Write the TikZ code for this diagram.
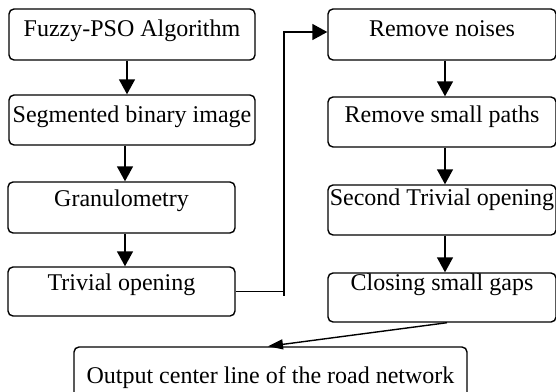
\documentclass[tikz,border=0pt]{standalone}
\usepackage{fontspec}
\setmainfont{Liberation Serif}
\usetikzlibrary{arrows.meta}
\begin{document}
\begin{tikzpicture}[x=1pt, y=-1pt, line width=1.4pt, -{Triangle[length=15pt,width=16pt]},
    stage/.style={draw, -, rounded corners=5pt, inner sep=0pt, anchor=base, font=\fontsize{24}{28}\selectfont}]
    \useasboundingbox (0,0) rectangle (556,391);
    % left column
    \node[stage, minimum width=246pt, text height=27pt, text depth=24pt] (fuzzy) at (132,36) {Fuzzy-PSO Algorithm};
    \node[stage, minimum width=246pt, text height=27pt, text depth=23pt] (seg) at (132,122) {Segmented binary image};
    \node[stage, minimum width=227pt, text height=24pt, text depth=27pt] (gran) at (121.5,206) {Granulometry};
    \node[stage, minimum width=227pt, text height=23pt, text depth=26pt] (triv) at (121.5,290) {Trivial opening};
    % right column
    \node[stage, minimum width=228pt, text height=27pt, text depth=24pt] (noise) at (442,36) {Remove noises};
    \node[stage, minimum width=228pt, text height=25pt, text depth=25pt] (small) at (442,122) {Remove small paths};
    \node[stage, minimum width=228pt, text height=20pt, text depth=30pt] (second) at (442,205) {Second Trivial opening};
    \node[stage, minimum width=228pt, text height=17pt, text depth=32pt] (close) at (442,290) {Closing small gaps};
    % output
    \node[stage, minimum width=393pt, text height=36pt, text depth=20pt] (out) at (270.5,383) {Output center line of the road network};
    \coordinate (bend) at (284,32);
    \draw ([xshift=-5pt]fuzzy.south) -- ([xshift=-5pt]seg.north);
    \draw ([xshift=-7pt]seg.south) -- ([xshift=3.5pt]gran.north);
    \draw ([xshift=3.5pt]gran.south) -- ([xshift=3.5pt]triv.north);
    \draw[-] (triv.east) -| ([yshift=-4pt]bend |- triv.east);
    \draw ([yshift=-4pt]bend |- triv.east) -- (bend) -- (bend -| noise.west);
    \draw ([xshift=3pt]noise.south) -- ([xshift=3pt]small.north);
    \draw ([xshift=3pt]small.south) -- ([xshift=3pt]second.north);
    \draw ([xshift=3pt]second.south) -- ([xshift=3pt]close.north);
    \draw[-{Triangle[length=15pt,width=10pt]}] ([xshift=5pt]close.south) -- ([xshift=-2.5pt]out.north);
\end{tikzpicture}
\end{document}
